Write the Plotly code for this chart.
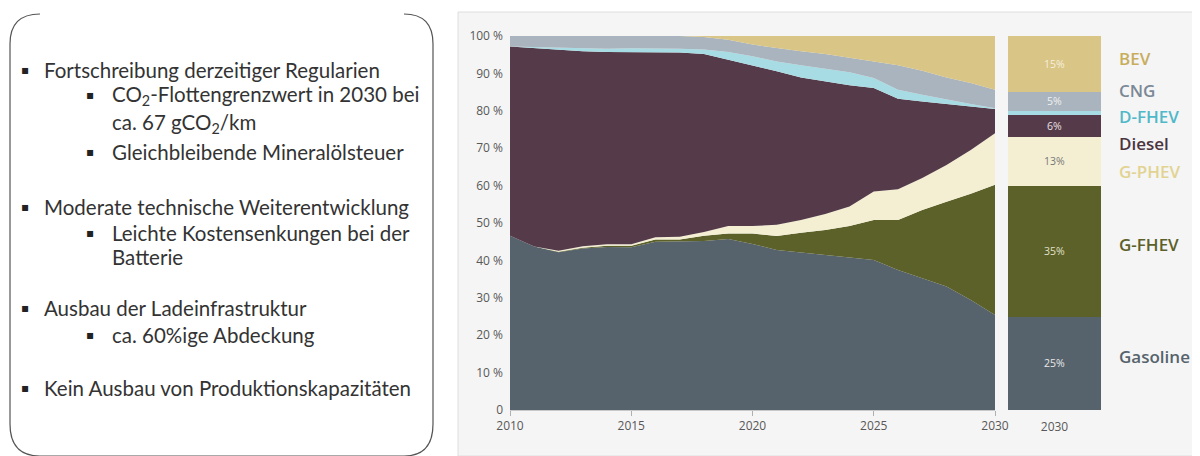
import plotly.graph_objects as go

# page is rendered with an 8px body margin, so figure pixels = page pixels - 8
OFF = 8
W, H = 1200 - OFF, 456 - OFF

years = list(range(2010, 2031))
gasoline = [46.6, 43.7, 42.2, 43.2, 43.6, 43.5, 45.0, 45.0, 45.2, 45.7, 44.4,
            42.8, 42.1, 41.4, 40.8, 40.1, 37.4, 35.2, 33.0, 29.4, 25.4]
g_fhev = [0, 0, 0.1, 0.2, 0.3, 0.4, 0.6, 0.6, 1.4, 1.5, 2.8,
          3.7, 5.3, 6.7, 8.4, 10.7, 13.4, 18.3, 22.7, 28.4, 34.8]
g_phev = [0, 0, 0.3, 0.4, 0.4, 0.4, 0.6, 0.7, 1.0, 2.0, 2.0,
          3.0, 3.4, 4.3, 5.2, 7.6, 8.2, 8.5, 9.8, 11.7, 13.8]
diesel = [50.6, 53.1, 53.7, 52.1, 51.4, 51.4, 49.5, 49.3, 47.6, 44.5, 42.9,
          41.1, 38.1, 35.5, 32.4, 27.7, 24.2, 20.5, 16.3, 11.7, 6.5]
d_fhev = [0, 0.2, 0.6, 0.8, 0.9, 1.0, 1.0, 1.0, 1.2, 2.0, 2.5,
          2.6, 3.3, 3.4, 3.5, 2.7, 2.4, 1.8, 1.2, 0.6, 0.2]
cng = [2.8, 3.0, 3.1, 3.3, 3.4, 3.3, 3.3, 3.4, 3.3, 3.3, 3.1,
       3.6, 3.7, 3.9, 4.0, 4.4, 6.6, 6.4, 5.9, 5.6, 4.9]
bev = [0, 0, 0, 0, 0, 0, 0, 0, 0.3, 1.0, 2.3,
       3.2, 4.1, 4.8, 5.7, 6.8, 7.8, 9.3, 11.1, 12.6, 14.4]

series_names = ["Gasoline", "G-FHEV", "G-PHEV", "Diesel", "D-FHEV", "CNG", "BEV"]
series_values = [gasoline, g_fhev, g_phev, diesel, d_fhev, cng, bev]
share_2030 = [25, 35, 13, 6, 1, 5, 15]
share_2030_labels = ["25%", "35%", "13%", "6%", None, "5%", "15%"]

y_ticks = [0, 10, 20, 30, 40, 50, 60, 70, 80, 90, 100]
y_ticktext = ["0", "10 %", "20 %", "30 %", "40 %", "50 %", "60 %", "70 %", "80 %", "90 %", "100 %"]
x_ticks = [2010, 2015, 2020, 2025, 2030]

fill_colors = {
    "Gasoline": "#56636c", "G-FHEV": "#5c6029", "G-PHEV": "#f4efd3",
    "Diesel": "#553b49", "D-FHEV": "#a8dce4", "CNG": "#a9b4be", "BEV": "#d9c585",
}
label_colors = {
    "BEV": "#c8ad5e", "CNG": "#7b8896", "D-FHEV": "#4fb8c9", "Diesel": "#4b3340",
    "G-PHEV": "#e2d392", "G-FHEV": "#5c6029", "Gasoline": "#56636c",
}
bar_text_colors = ["#e8e8e8", "#e0e0c8", "#777777", "#e8e0e4", "#ffffff", "#f0f0f0", "#f6f0dc"]
label_y = {"BEV": 58, "CNG": 90, "D-FHEV": 116, "Diesel": 143, "G-PHEV": 171,
           "G-FHEV": 245, "Gasoline": 356}


def px_x(x):
    return (x - OFF) / W


def px_y(y):
    return 1 - (y - OFF) / H


fig = go.Figure()

for name, vals in zip(series_names, series_values):
    fig.add_trace(go.Scatter(
        x=years, y=vals, name=name, mode="lines", stackgroup="one", groupnorm="percent",
        line=dict(width=0), fillcolor=fill_colors[name], xaxis="x", yaxis="y",
    ))

for name, val, lab, tc in zip(series_names, share_2030, share_2030_labels, bar_text_colors):
    fig.add_trace(go.Bar(
        x=["2030"], y=[val], width=1, marker=dict(color=fill_colors[name], line=dict(width=0)),
        text=[lab] if lab else None, textposition="inside" if lab else "none",
        insidetextanchor="middle", textangle=0, constraintext="none",
        textfont=dict(color=tc, size=10.5, family="Open Sans"),
        xaxis="x2", yaxis="y2", name=name,
    ))

tick_font = dict(family="Open Sans", size=12, color="#585858")

fig.update_layout(
    width=W, height=H, margin=dict(l=0, r=0, t=0, b=0, autoexpand=False),
    paper_bgcolor="white", plot_bgcolor="rgba(0,0,0,0)",
    showlegend=False, barmode="stack",
    xaxis=dict(domain=[px_x(510), px_x(995)], range=[2010, 2030], tickvals=x_ticks,
               ticks="outside", ticklen=5, tickcolor="#b0b0b0", showline=True,
               linecolor="#c8c8c8", showgrid=False, zeroline=False, tickfont=tick_font,
               automargin=False),
    yaxis=dict(domain=[px_y(410), px_y(36)], range=[0, 100], tickvals=y_ticks,
               ticktext=y_ticktext, showgrid=False, zeroline=False, ticks="",
               tickfont=tick_font, ticklabelstandoff=6, automargin=False),
    xaxis2=dict(domain=[px_x(1008), px_x(1101)], range=[-0.5, 0.5], type="category",
                showgrid=False, zeroline=False, ticks="outside", ticklen=6,
                tickcolor="rgba(0,0,0,0)", tickfont=tick_font, anchor="y2",
                automargin=False),
    yaxis2=dict(domain=[px_y(410), px_y(36)], range=[0, 100], showticklabels=False,
                showgrid=False, zeroline=False, anchor="x2", automargin=False),
)

# grey chart panel
fig.add_shape(type="rect", xref="paper", yref="paper", x0=px_x(458), x1=1.0,
              y0=0, y1=px_y(12), fillcolor="#f5f5f5", line=dict(color="#dedede", width=1),
              layer="below")

# rounded text box (top edge not drawn)
box_path = ("M 40,14 Q 10,14 10,44 L 10,424 Q 10,456 40,456 L 404,456 "
            "Q 433,456 433,424 L 433,44 Q 433,14 404,14")
px_path = []
for tok in box_path.split():
    if "," in tok:
        a, b = tok.split(",")
        px_path.append(f"{px_x(float(a)):.5f},{px_y(float(b)):.5f}")
    else:
        px_path.append(tok)
fig.add_shape(type="path", xref="paper", yref="paper", path=" ".join(px_path),
              line=dict(color="#555555", width=1.2))

for name in series_names:
    fig.add_annotation(x=px_x(1117), y=px_y(label_y[name]), xref="paper", yref="paper",
                       text=name, showarrow=False, xanchor="left", yanchor="middle",
                       font=dict(family="Open Sans", size=17, color=label_colors[name],
                                 weight=600))

text_lines = [
    (25, 70, "▪", 42, "Fortschreibung derzeitiger Regularien"),
    (90, 95, "▪", 110, "CO<sub>2</sub>-Flottengrenzwert in 2030 bei"),
    (None, 123, "", 110, "ca. 67 gCO<sub>2</sub>/km"),
    (90, 152, "▪", 110, "Gleichbleibende Mineralölsteuer"),
    (25, 207, "▪", 42, "Moderate technische Weiterentwicklung"),
    (90, 233, "▪", 110, "Leichte Kostensenkungen bei der"),
    (None, 257, "", 110, "Batterie"),
    (25, 308, "▪", 42, "Ausbau der Ladeinfrastruktur"),
    (90, 335, "▪", 110, "ca. 60%ige Abdeckung"),
    (25, 388, "▪", 42, "Kein Ausbau von Produktionskapazitäten"),
]
for bx, y, bullet, tx, txt in text_lines:
    if bx is not None:
        fig.add_annotation(x=px_x(bx), y=px_y(y), xref="paper", yref="paper", text=bullet,
                           showarrow=False, xanchor="center", yanchor="middle",
                           font=dict(family="DejaVu Sans", size=12, color="#222222"))
    fig.add_annotation(x=px_x(tx), y=px_y(y), xref="paper", yref="paper", text=txt,
                       showarrow=False, xanchor="left", yanchor="middle",
                       font=dict(family="Lato", size=20.5, color="#333333"))

fig.write_html("out.html")
